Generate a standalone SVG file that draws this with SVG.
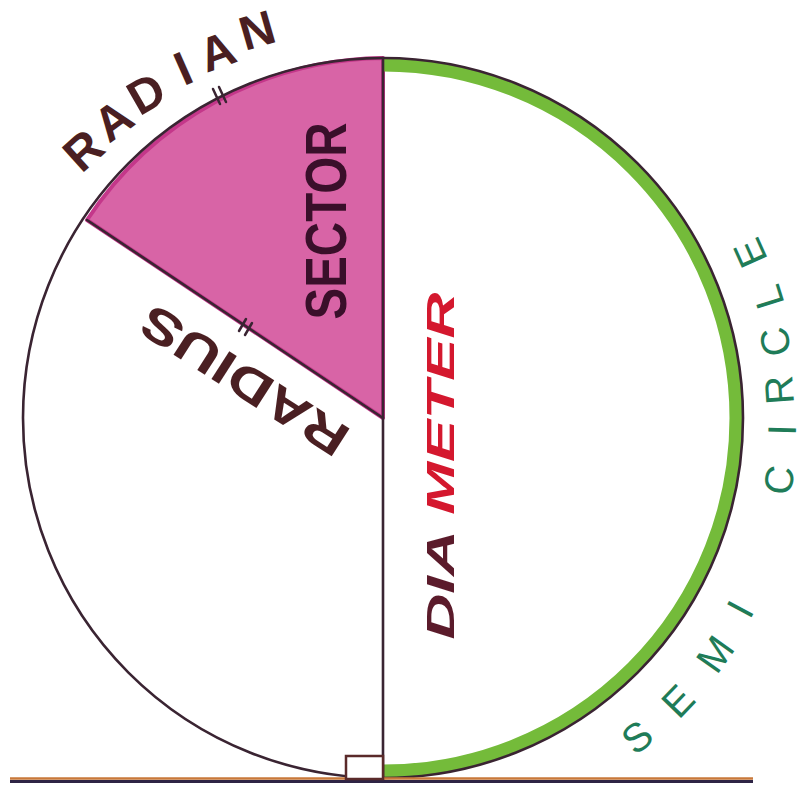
<svg xmlns="http://www.w3.org/2000/svg" width="803" height="790" viewBox="0 0 803 790">
  <style>
    .ink { fill: none; stroke: #3a2432; stroke-width: 2.6; stroke-linecap: round; }
    .brown { font-family: "Liberation Sans", Arial, sans-serif; font-weight: bold; fill: #4a1f22; }
    .green { font-family: "Liberation Sans", Arial, sans-serif; font-weight: normal; fill: #1f7c58; font-size: 40px; text-anchor: middle; }
    .tick { stroke: #3a2432; stroke-width: 2.5; stroke-linecap: round; }
  </style>
  <rect width="803" height="790" fill="#ffffff"/>

  <g id="sector">
    <path d="M383,58 L383,418 L87,220 A360,360 0 0 1 383,58 Z" fill="#d864a6" stroke="#c4378a" stroke-width="4" stroke-linejoin="round"/>
  </g>

  <g id="semicircle">
    <path d="M383,65 A353,353 0 0 1 383,771" fill="none" stroke="#74bb3a" stroke-width="13"/>
  </g>

  <g id="circle">
    <circle cx="383" cy="418" r="360" class="ink"/>
  </g>

  <g id="connectors">
    <line id="diameter" x1="383" y1="58" x2="383" y2="780" class="ink" stroke-width="2.8"/>
    <line id="radius" x1="383" y1="418" x2="87" y2="220" class="ink" stroke-width="2.8"/>
    <g id="baseline">
      <line x1="10" y1="778.5" x2="753" y2="778.5" stroke="#c8783a" stroke-width="2.5"/>
      <line x1="10" y1="781.5" x2="753" y2="781.5" stroke="#2e2445" stroke-width="3"/>
    </g>
    <rect id="right-angle" x="346" y="756" width="37" height="23" fill="#ffffff" stroke="#5a2a2a" stroke-width="2.5"/>
    <g id="ticks">
      <line class="tick" x1="213" y1="89" x2="220" y2="104"/>
      <line class="tick" x1="219" y1="87" x2="226" y2="102"/>
      <line class="tick" x1="246" y1="319" x2="239" y2="331"/>
      <line class="tick" x1="252" y1="323" x2="245" y2="335"/>
    </g>
  </g>

  <g id="radian-label" class="brown" font-size="48" text-anchor="middle">
    <text x="83" y="167" transform="rotate(-42 83 150)">R</text>
    <text x="113" y="137" transform="rotate(-36 113 120)">A</text>
    <text x="146" y="110" transform="rotate(-30 146 93)">D</text>
    <text x="183" y="85" transform="rotate(-24 183 68)">I</text>
    <text x="217" y="68" transform="rotate(-20 217 51)">A</text>
    <text x="257" y="47" transform="rotate(-16 257 30)">N</text>
  </g>

  <g id="sector-label">
    <text x="326" y="241" transform="rotate(-90 326 221)" font-family="Liberation Sans, Arial, sans-serif" font-weight="bold" font-size="58" fill="#3a0f2a" text-anchor="middle" textLength="197" lengthAdjust="spacingAndGlyphs">SECTOR</text>
  </g>

  <g id="radius-label">
    <text x="244" y="398" transform="rotate(-147.3 244 381)" class="brown" font-size="48" text-anchor="middle" textLength="237" lengthAdjust="spacingAndGlyphs">RADIUS</text>
  </g>

  <g id="diameter-label">
    <text x="441" y="479" transform="rotate(-90 441 466)" font-family="Liberation Sans, Arial, sans-serif" font-weight="bold" font-style="italic" font-size="38" text-anchor="middle" textLength="347" lengthAdjust="spacingAndGlyphs"><tspan fill="#5b1b2b">DIA </tspan><tspan fill="#d4182e">METER</tspan></text>
  </g>

  <g id="semicircle-label" class="green">
    <text x="637" y="751" transform="rotate(-38.5 637 737)">S</text>
    <text x="678" y="715" transform="rotate(-46.2 678 701)">E</text>
    <text x="715" y="668" transform="rotate(-54.6 715 654)">M</text>
    <text x="740" y="623" transform="rotate(-61.8 740 609)">I</text>
    <text x="779" y="494" transform="rotate(-81.2 779 480)">C</text>
    <text x="782" y="444" transform="rotate(-88.3 782 430)">I</text>
    <text x="779" y="404" transform="rotate(-94 779 390)">R</text>
    <text x="775" y="356" transform="rotate(-100.8 775 342)">C</text>
    <text x="768" y="311" transform="rotate(-107.2 768 297)">L</text>
    <text x="750" y="267" transform="rotate(-114.1 750 253)">E</text>
  </g>
</svg>
